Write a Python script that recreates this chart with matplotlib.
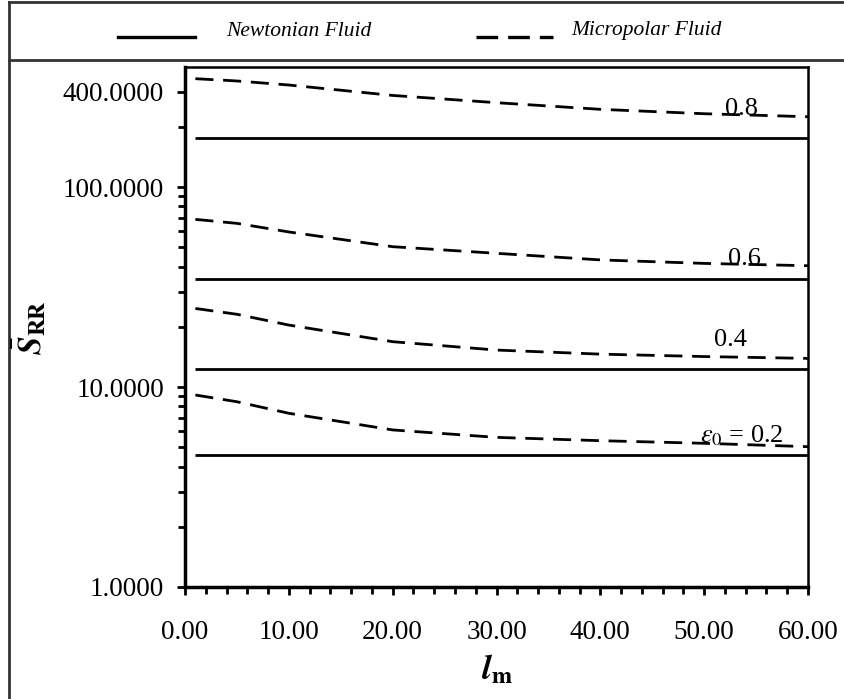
import numpy as np
import matplotlib.pyplot as plt
from matplotlib.lines import Line2D
from matplotlib.ticker import FixedLocator, NullFormatter

plt.rcParams['font.family'] = ['Liberation Serif', 'DejaVu Serif']
plt.rcParams['mathtext.fontset'] = 'stix'

# l_m positions of the computed points
lm = [1, 5, 10, 20, 30, 40, 50, 60]

# eccentricity ratios and the curves
eps = ['0.2', '0.4', '0.6', '0.8']
newtonian = [4.57, 12.35, 34.8, 176.0]
micropolar = [
    [9.12, 8.44, 7.39, 6.10, 5.60, 5.39, 5.23, 5.03],
    [24.7, 23.1, 20.4, 16.85, 15.3, 14.6, 14.2, 13.9],
    [68.9, 65.8, 59.6, 50.3, 46.6, 43.2, 41.5, 40.4],
    [348.0, 339.0, 323.6, 287.0, 264.0, 244.6, 232.5, 224.6],
]

# curve labels: (text, x, y)
curve_labels = [
    (r'$\varepsilon_0$ = 0.2', 53.6, 5.69),
    ('0.4', 52.5, 17.2),
    ('0.6', 53.9, 43.6),
    ('0.8', 53.6, 246.0),
]

fig = plt.figure(figsize=(8.44, 6.99), dpi=100)
ax = fig.add_axes([185 / 844, 1 - 587 / 699, 623 / 844, (587 - 66.6) / 699])

for i in range(len(eps)):
    ax.plot([lm[0], lm[-1]], [newtonian[i], newtonian[i]], color='black', lw=2, solid_capstyle='butt')
    ax.plot(lm, micropolar[i], color='black', lw=2, dashes=(6.5, 3.5))

for text, x, y in curve_labels:
    ax.text(x, y, text, fontsize=19, ha='center', va='center')

ax.set_yscale('log')
ax.set_xlim(0, 60)
ax.set_ylim(1, 400)

ax.set_xticks(np.arange(0, 61, 10))
ax.set_xticklabels(['%.2f' % v for v in np.arange(0, 61, 10)])
ax.xaxis.set_minor_locator(FixedLocator(np.arange(0, 61, 2)))

ax.yaxis.set_major_locator(FixedLocator([1, 10, 100, 300]))
ax.set_yticklabels(['1.0000', '10.0000', '100.0000', '400.0000'])
minors = [m * 10 ** d for d in range(0, 3) for m in range(2, 10) if m * 10 ** d < 400]
ax.yaxis.set_minor_locator(FixedLocator(minors))
ax.yaxis.set_minor_formatter(NullFormatter())

ax.tick_params(axis='both', which='major', labelsize=19.5, width=2, length=6, direction='out')
ax.tick_params(axis='both', which='minor', width=2, length=5, direction='out')
ax.tick_params(axis='x', which='major', pad=18)
ax.tick_params(axis='y', which='major', pad=9)

for side in ['left', 'bottom']:
    ax.spines[side].set_linewidth(2.5)
for side in ['top', 'right']:
    ax.spines[side].set_linewidth(1.8)

ax.set_xlabel(r'$\mathbfit{l}_{\mathbf{m}}$', fontsize=25, labelpad=6)
fig.text(30 / 844, 1 - 328 / 699, r'$\bar{\mathbfit{S}}_{\mathbf{RR}}$', fontsize=24,
         rotation=90, ha='center', va='center')

# outer frame and legend strip
frame_kw = dict(color='#333333', lw=2, transform=fig.transFigure)
fig.add_artist(Line2D([9 / 844, 9 / 844], [0, 1 - 2 / 699], **frame_kw))
fig.add_artist(Line2D([9 / 844, 1], [1 - 2 / 699, 1 - 2 / 699], **frame_kw))
fig.add_artist(Line2D([9 / 844, 1], [1 - 60 / 699, 1 - 60 / 699], **frame_kw))

ly = 1 - 37 / 699
fig.add_artist(Line2D([118 / 844, 195 / 844], [ly, ly], color='black', lw=2.4,
                      transform=fig.transFigure))
fig.add_artist(Line2D([476 / 844, 553 / 844], [ly, ly], color='black', lw=2.4,
                      dashes=(6.5, 3), transform=fig.transFigure))
fig.text(226 / 844, 1 - 31 / 699, 'Newtonian Fluid', fontsize=15.5, style='italic', va='center')
fig.text(571 / 844, 1 - 31 / 699, 'Micropolar Fluid', fontsize=15.5, style='italic', va='center')

fig.savefig('out.png', dpi=100)
